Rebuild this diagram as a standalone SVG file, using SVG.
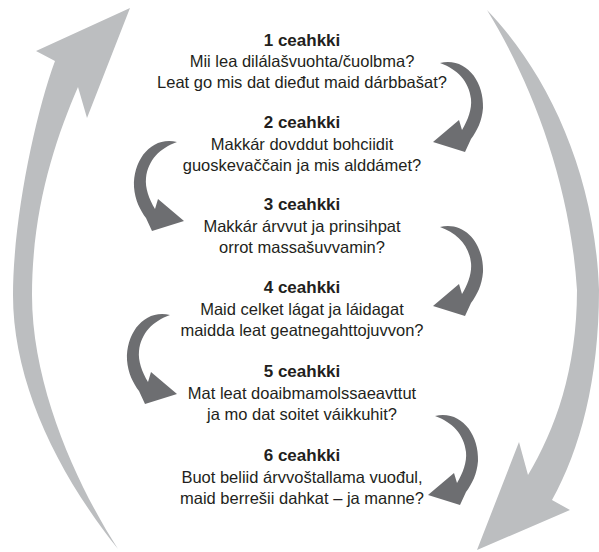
<svg xmlns="http://www.w3.org/2000/svg" xmlns:xlink="http://www.w3.org/1999/xlink" width="599" height="552" viewBox="0 0 599 552">
  <style>
    .big { fill: #bcbec0; }
    .small { fill: #6d6e71; }
    text { font-family: "Liberation Sans", Arial, Helvetica, sans-serif; font-size: 16.5px; fill: #231f20; text-anchor: middle; }
    .t { font-weight: bold; font-size: 17px; }
  </style>
  <defs>
    <path id="sa" d="M440,63 C465,57 484,80 483,108 C482,121 477,131 471,139 L465,152 L433,142 L459,120 L462,130 C468,120 472,109 471,99 C469,81 457,69 440,63 Z"/>
  </defs>
  <rect width="599" height="552" fill="#ffffff"/>
  <g id="connectors">
    <path id="cycle-left" class="big" d="M118,549 C55,470 13,380 13,295 C13,220 35,115 55,61 L36,51 L130,8 L87,118 L78,87 C55,140 32,210 32,295 C32,390 80,490 118,549 Z"/>
    <path id="cycle-right" class="big" d="M487,10 C545,70 595,170 599,290 C599,380 580,450 552,500 L570,510 L477,550 L519,442 L528,475 C555,430 577,370 577,290 C570,180 530,80 487,10 Z"/>
    <use id="a12" class="small" xlink:href="#sa"/>
    <use id="a23" class="small" xlink:href="#sa" transform="translate(617,79) scale(-1,1)"/>
    <use id="a34" class="small" xlink:href="#sa" transform="translate(0,164)"/>
    <use id="a45" class="small" xlink:href="#sa" transform="translate(610,252) scale(-1,1)"/>
    <use id="a56" class="small" xlink:href="#sa" transform="translate(-5,353)"/>
  </g>
  <g id="step1">
    <text class="t" x="302" y="46">1 ceahkki</text>
    <text x="302" y="67">Mii lea dilálašvuohta/čuolbma?</text>
    <text x="302" y="88">Leat go mis dat dieđut maid dárbbašat?</text>
  </g>
  <g id="step2">
    <text class="t" x="302" y="128">2 ceahkki</text>
    <text x="302" y="150">Makkár dovddut bohciidit</text>
    <text x="302" y="171">guoskevaččain ja mis alddámet?</text>
  </g>
  <g id="step3">
    <text class="t" x="302" y="210">3 ceahkki</text>
    <text x="302" y="232">Makkár árvvut ja prinsihpat</text>
    <text x="302" y="253">orrot massašuvvamin?</text>
  </g>
  <g id="step4">
    <text class="t" x="302" y="293">4 ceahkki</text>
    <text x="302" y="315">Maid celket lágat ja láidagat</text>
    <text x="302" y="336">maidda leat geatnegahttojuvvon?</text>
  </g>
  <g id="step5">
    <text class="t" x="302" y="377">5 ceahkki</text>
    <text x="302" y="399">Mat leat doaibmamolssaeavttut</text>
    <text x="302" y="420">ja mo dat soitet váikkuhit?</text>
  </g>
  <g id="step6">
    <text class="t" x="302" y="461">6 ceahkki</text>
    <text x="302" y="483">Buot beliid árvvoštallama vuođul,</text>
    <text x="302" y="504">maid berrešii dahkat – ja manne?</text>
  </g>
</svg>
